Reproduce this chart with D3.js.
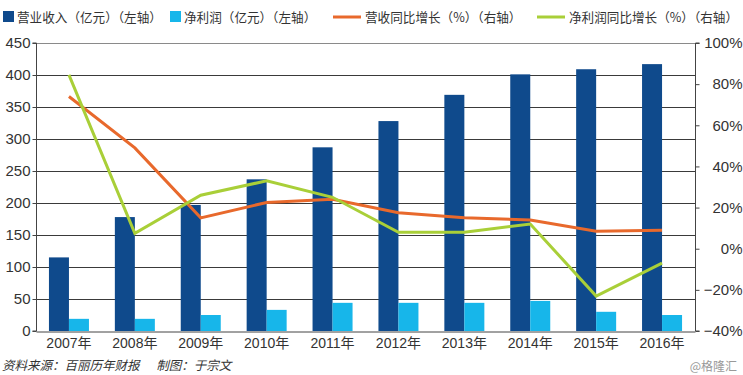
<!DOCTYPE html>
<html>
<head>
<meta charset="utf-8">
<script src="https://cdn.jsdelivr.net/npm/d3@7"></script>
<style>
  body { margin: 0; background: #fff; }
  text { font-family: "Liberation Sans", Arial, "Noto Sans CJK SC", sans-serif; }
  .cjk { font-family: "Noto Sans CJK SC", sans-serif; }
</style>
</head>
<body>
<svg id="chart"></svg>
<script>
// data
const years = ["2007年", "2008年", "2009年", "2010年", "2011年", "2012年", "2013年", "2014年", "2015年", "2016年"];
const revenue = [115, 178, 197, 237, 287, 328, 369, 401, 409, 417];
const profit = [19, 19, 25, 33, 44, 44, 44, 47, 30, 25];
const revenueGrowth = [74, 49, 15, 22.5, 24, 17.5, 15, 14, 8.5, 9];
const profitGrowth = [84.5, 7.5, 26, 33, 25, 8, 8, 12, -23, -7];
const leftTicks = [0, 50, 100, 150, 200, 250, 300, 350, 400, 450];
const rightTicks = [-40, -20, 0, 20, 40, 60, 80, 100];

const W = 743, H = 375;
const colors = {rev: "#0f4a8c", prof: "#17b6ea", revG: "#e8692c", profG: "#a9cf38"};

const svg = d3.select("#chart").attr("width", W).attr("height", H);

const x0 = 36, x1 = 695, yTop = 43, yBot = 331;

const x = d3.scaleBand().domain(years).range([x0, x1]);
const xSub = d3.scaleBand().domain(["rev", "prof"]).range([x.bandwidth() / 2 - 20, x.bandwidth() / 2 + 20]);
const yL = d3.scaleLinear().domain([0, 450]).range([yBot, yTop]);
const yR = d3.scaleLinear().domain([-40, 100]).range([yBot, yTop]);

// grid lines
svg.append("g").selectAll("line")
    .data(leftTicks.filter(d => d > 0))
    .join("line")
    .attr("x1", x0).attr("x2", x1)
    .attr("y1", d => Math.round(yL(d)) + 0.5).attr("y2", d => Math.round(yL(d)) + 0.5)
    .attr("stroke", d => d === 450 ? "#8a8a8a" : "#3a3a3a")
    .attr("stroke-width", 1);

// bars
const groups = svg.append("g").selectAll("g")
    .data(years)
    .join("g")
    .attr("transform", d => `translate(${x(d)},0)`);

groups.append("rect")
    .attr("x", xSub("rev"))
    .attr("width", xSub.bandwidth())
    .attr("y", (d, i) => yL(revenue[i]))
    .attr("height", (d, i) => yBot - yL(revenue[i]))
    .attr("fill", colors.rev);

groups.append("rect")
    .attr("x", xSub("prof"))
    .attr("width", xSub.bandwidth())
    .attr("y", (d, i) => yL(profit[i]))
    .attr("height", (d, i) => yBot - yL(profit[i]))
    .attr("fill", colors.prof);

// lines
const line = d3.line()
    .x((d, i) => x(years[i]) + x.bandwidth() / 2)
    .y(d => yR(d));

svg.append("path").datum(revenueGrowth)
    .attr("d", line).attr("fill", "none")
    .attr("stroke", colors.revG).attr("stroke-width", 3);
svg.append("path").datum(profitGrowth)
    .attr("d", line).attr("fill", "none")
    .attr("stroke", colors.profG).attr("stroke-width", 3);

// axes
const axL = svg.append("g")
    .attr("transform", `translate(${x0 + 0.5},0)`)
    .call(d3.axisLeft(yL).tickValues(leftTicks).tickSize(4).tickPadding(2));
const axR = svg.append("g")
    .attr("transform", `translate(${x1 + 0.5},0)`)
    .call(d3.axisRight(yR).tickValues(rightTicks).tickSize(4).tickPadding(3)
        .tickFormat(d => (d < 0 ? "\u2212" + (-d) : d) + "%"));
const axB = svg.append("g")
    .attr("transform", `translate(0,${yBot + 0.5})`)
    .call(d3.axisBottom(x).tickSize(0).tickPadding(5));

[axL, axR, axB].forEach(a => {
    a.select(".domain").attr("stroke", "#444");
    a.selectAll(".tick line").attr("stroke", "#444");
    a.selectAll("text").attr("fill", "#333").attr("font-size", 15);
});
axL.select(".domain").attr("d", `M-4,${yTop}H0V${yBot}H-4`);
axR.select(".domain").attr("d", `M4,${yTop}H0V${yBot}H4`);
axR.selectAll(".tick text").attr("text-anchor", "end").attr("x", 47);
axB.select(".domain").attr("stroke", "#444");
axB.selectAll("text").attr("font-size", 14).attr("dy", "0.85em");

// legend
const legend = [
    {label: "营业收入（亿元）（左轴）", color: colors.rev, type: "box", x: 3},
    {label: "净利润（亿元）（左轴）", color: colors.prof, type: "box", x: 170},
    {label: "营收同比增长（%）（右轴）", color: colors.revG, type: "line", x: 333},
    {label: "净利润同比增长（%）（右轴）", color: colors.profG, type: "line", x: 537}
];
const lg = svg.append("g").selectAll("g").data(legend).join("g")
    .attr("transform", d => `translate(${d.x},17)`);
lg.filter(d => d.type === "box").append("rect")
    .attr("x", 0).attr("y", -6).attr("width", 11).attr("height", 11)
    .attr("fill", d => d.color);
lg.filter(d => d.type === "line").append("line")
    .attr("x1", 0).attr("x2", 28).attr("y1", 0).attr("y2", 0)
    .attr("stroke", d => d.color).attr("stroke-width", 3);
lg.append("text")
    .attr("class", "cjk")
    .attr("x", d => d.type === "box" ? 14 : 32)
    .attr("y", 5)
    .attr("font-size", 12.6)
    .attr("fill", "#333")
    .text(d => d.label);

// footer
svg.append("text")
    .attr("class", "cjk")
    .attr("x", 2).attr("y", 370)
    .attr("font-size", 12.5).attr("font-style", "italic")
    .attr("fill", "#333")
    .text("资料来源：百丽历年财报      制图：于宗文")
    .attr("xml:space", "preserve");
svg.append("text")
    .attr("class", "cjk")
    .attr("x", 737).attr("y", 371)
    .attr("text-anchor", "end")
    .attr("font-size", 12)
    .attr("fill", "#999")
    .text("@格隆汇");
</script>
</body>
</html>
